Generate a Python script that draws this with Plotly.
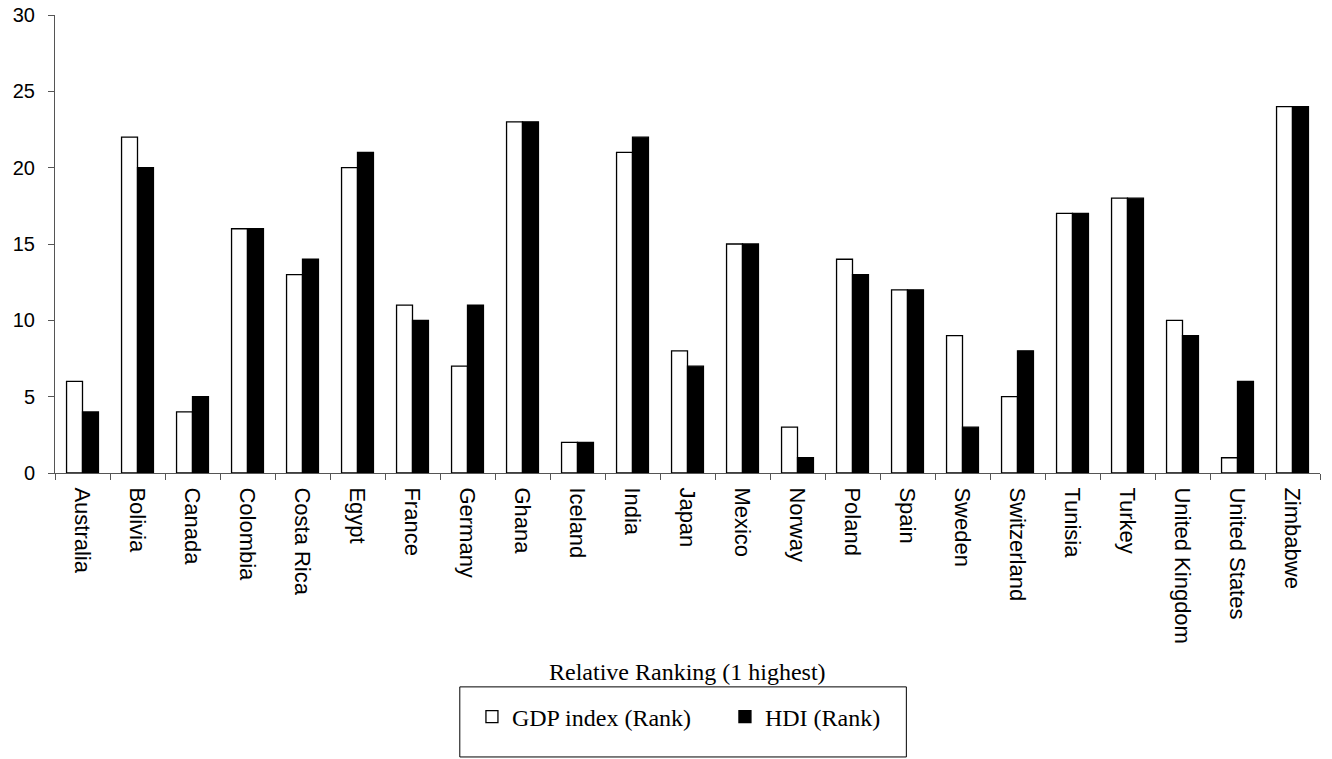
import plotly.graph_objects as go

countries = ["Australia", "Bolivia", "Canada", "Colombia", "Costa Rica", "Egypt", "France",
             "Germany", "Ghana", "Iceland", "India", "Japan", "Mexico", "Norway", "Poland",
             "Spain", "Sweden", "Switzerland", "Tunisia", "Turkey", "United Kingdom",
             "United States", "Zimbabwe"]
gdp_rank = [6, 22, 4, 16, 13, 20, 11, 7, 23, 2, 21, 8, 15, 3, 14, 12, 9, 5, 17, 18, 10, 1, 24]
hdi_rank = [4, 20, 5, 16, 14, 21, 10, 11, 23, 2, 22, 7, 15, 1, 13, 12, 3, 8, 17, 18, 9, 6, 24]
y_ticks = [0, 5, 10, 15, 20, 25, 30]

fig = go.Figure()
fig.add_trace(go.Bar(x=countries, y=gdp_rank, name="GDP index (Rank)",
                     marker=dict(color="white", line=dict(color="black", width=1.3))))
fig.add_trace(go.Bar(x=countries, y=hdi_rank, name="HDI (Rank)",
                     marker=dict(color="black", line=dict(color="black", width=1.3))))

fig.update_layout(
    width=1332, height=759,
    margin=dict(l=55, r=12, t=15, b=286),
    paper_bgcolor="white", plot_bgcolor="white",
    barmode="group", bargap=0.42, bargroupgap=0,
    showlegend=True,
    legend=dict(orientation="h", x=0.3296, xanchor="left", y=-0.533, yanchor="middle",
                font=dict(family="Liberation Serif", size=24, color="black"),
                entrywidth=208, entrywidthmode="pixels", traceorder="normal",
                bgcolor="rgba(0,0,0,0)", borderwidth=0, itemwidth=30),
    xaxis=dict(tickangle=90, tickfont=dict(family="Liberation Sans", size=22, color="black"),
               showline=True, linecolor="#555", linewidth=1, ticks="outside",
               ticklen=6, tickcolor="#555", tickson="boundaries", showgrid=False,
               ticklabelstandoff=9, automargin=False,
               range=[-0.5, len(countries) - 0.5]),
    yaxis=dict(range=[0, 30], tickvals=y_ticks, tickfont=dict(family="Liberation Sans", size=20, color="black"),
               showline=True, linecolor="#555", linewidth=1, ticks="outside",
               ticklen=6, tickcolor="#555", showgrid=False, zeroline=False,
               ticklabelstandoff=9, automargin=False),
    shapes=[dict(type="rect", xref="paper", yref="paper", x0=0.320, x1=0.673, y0=-0.620, y1=-0.467,
                 line=dict(color="black", width=1), fillcolor="rgba(0,0,0,0)")],
    annotations=[dict(text="Relative Ranking (1 highest)", xref="paper", yref="paper", x=0.5, y=-0.434,
                      xanchor="center", yanchor="middle", showarrow=False,
                      font=dict(family="Liberation Serif", size=24, color="black"))],
)

fig.write_html("out.html")
